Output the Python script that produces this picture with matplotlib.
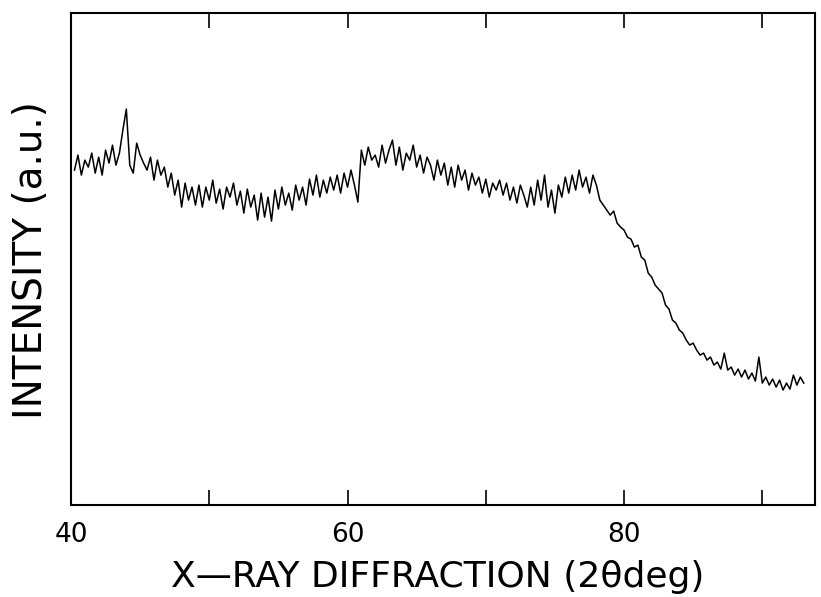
import matplotlib
matplotlib.use('Agg')
import matplotlib.pyplot as plt
import numpy as np

# XRD scan, 2theta from 40.25 deg in 0.25 deg steps (arbitrary intensity units)
two_theta_start = 40.25
two_theta_step = 0.25
intensity = [
    335, 350, 330, 345,   # 40
    338, 352, 332, 348,   # 41
    330, 355, 342, 360,   # 42
    340, 352, 375, 396,   # 43
    340, 332, 362, 350,   # 44
    342, 335, 348, 325,   # 45
    345, 330, 338, 318,   # 46
    332, 310, 325, 298,   # 47
    322, 305, 318, 300,   # 48
    320, 298, 318, 305,   # 49
    325, 302, 316, 296,   # 50
    318, 308, 322, 300,   # 51
    314, 292, 316, 298,   # 52
    310, 285, 312, 288,   # 53
    308, 284, 315, 296,   # 54
    318, 300, 312, 295,   # 55
    320, 305, 318, 300,   # 56
    326, 310, 330, 308,   # 57
    325, 312, 328, 315,   # 58
    330, 312, 332, 318,   # 59
    335, 320, 303, 355,   # 60
    340, 358, 345, 350,   # 61
    338, 360, 342, 355,   # 62
    365, 340, 358, 335,   # 63
    352, 345, 360, 338,   # 64
    350, 332, 348, 340,   # 65
    325, 345, 330, 342,   # 66
    320, 338, 318, 340,   # 67
    325, 335, 315, 332,   # 68
    320, 328, 312, 326,   # 69
    308, 322, 315, 325,   # 70
    310, 322, 305, 318,   # 71
    302, 320, 310, 298,   # 72
    318, 300, 325, 305,   # 73
    330, 298, 315, 292,   # 74
    320, 308, 328, 312,   # 75
    330, 315, 335, 318,   # 76
    328, 312, 330, 320,   # 77
    305, 300, 295, 290,   # 78
    294, 282, 278, 275,   # 79
    268, 266, 258, 260,   # 80
    248, 245, 232, 228,   # 81
    220, 216, 212, 200,   # 82
    196, 185, 182, 175,   # 83
    172, 165, 160, 162,   # 84
    155, 150, 152, 145,   # 85
    148, 140, 143, 136,   # 86
    152, 135, 138, 130,   # 87
    136, 128, 135, 126,   # 88
    132, 124, 148, 122,   # 89
    128, 120, 126, 118,   # 90
    125, 115, 122, 116,   # 91
    130, 120, 128, 122,   # 92
]
two_theta = two_theta_start + two_theta_step * np.arange(len(intensity))

x_ticks = [40, 50, 60, 70, 80, 90]
x_tick_labels = ['40', '', '60', '', '80', '']

plt.rcParams['font.family'] = ['DejaVu Sans']

fig = plt.figure(figsize=(8.21, 5.97), dpi=100)
ax = fig.add_axes([0.0865, 0.154, 0.906, 0.824])

ax.plot(two_theta, intensity, color='black', linewidth=1.1)

ax.set_xlim(40, 93.8)
ax.set_ylim(0, 492)
ax.set_xticks(x_ticks)
ax.set_xticklabels(x_tick_labels, fontsize=19)
ax.set_yticks([])
ax.tick_params(axis='x', direction='in', length=11, width=1.2,
               top=True, pad=12)
for s in ax.spines.values():
    s.set_linewidth(1.5)

fig.text(438 / 821, 1 - 577 / 597, 'X\u2014RAY DIFFRACTION (2\u03b8deg)',
         ha='center', va='center', fontsize=26)
fig.text(31 / 821, 1 - 260 / 597, 'INTENSITY (a.u.)',
         ha='center', va='center', rotation=90, fontsize=28)

fig.savefig('out.png', dpi=100)
